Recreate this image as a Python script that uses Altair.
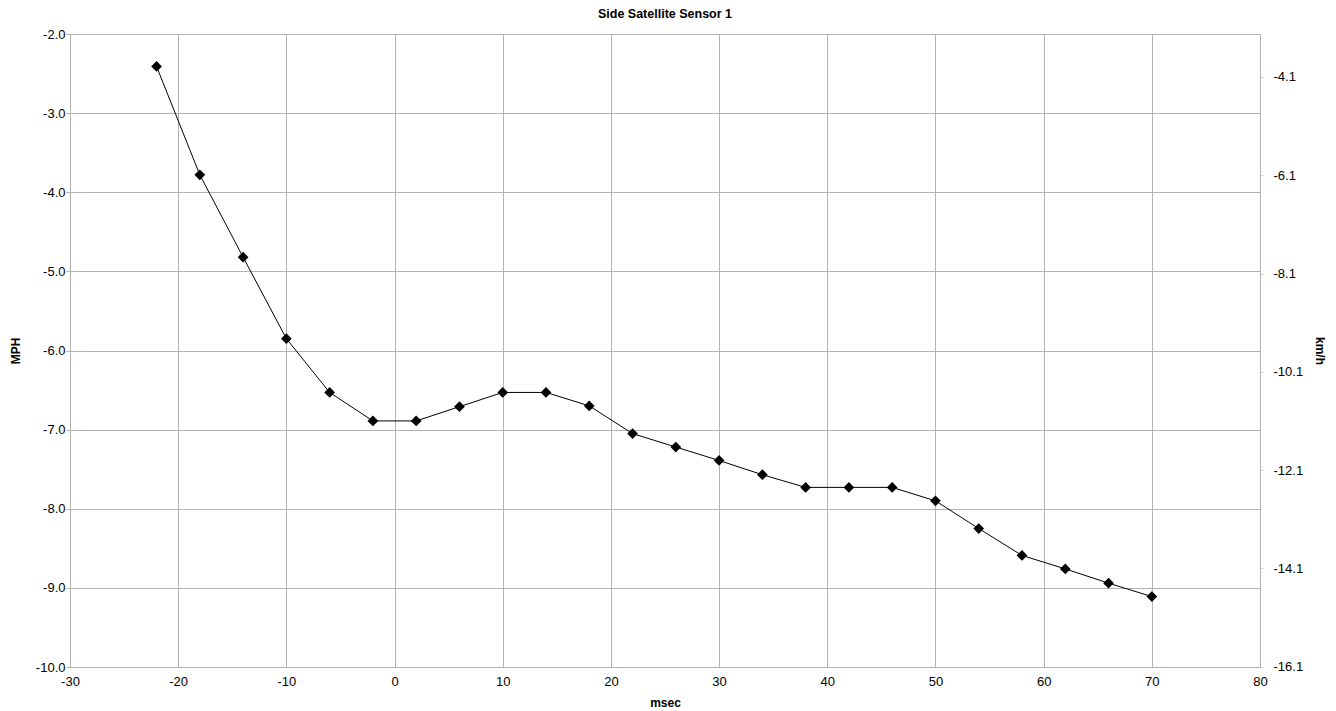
import altair as alt
import pandas as pd

msec = [-22, -18, -14, -10, -6, -2, 2, 6, 10, 14, 18, 22, 26, 30, 34, 38, 42, 46, 50, 54, 58, 62, 66, 70]
mph = [-2.41, -3.78, -4.82, -5.85, -6.53, -6.89, -6.89, -6.71, -6.53, -6.53, -6.70, -7.05,
       -7.22, -7.39, -7.57, -7.73, -7.73, -7.73, -7.90, -8.25, -8.59, -8.76, -8.94, -9.11]
x_ticks = [-30, -20, -10, 0, 10, 20, 30, 40, 50, 60, 70, 80]
mph_ticks = [-2.0, -3.0, -4.0, -5.0, -6.0, -7.0, -8.0, -9.0, -10.0]
KMH = 1.609344
kmh_ticks = [-16.09, -14.09, -12.09, -10.09, -8.09, -6.09, -4.09]

df = pd.DataFrame({"msec": msec, "mph": mph})

FONT = "Liberation Sans"
GRID = "#b3b3b3"
HYPHEN = "replace(datum.label, '\u2212', '-')"
LS = 13

x = alt.X("msec:Q", scale=alt.Scale(domain=[-30, 80], nice=False, zero=False),
          axis=alt.Axis(values=x_ticks, title="msec", tickSize=0, labelPadding=8,
                        titlePadding=9, grid=True, gridColor=GRID, domainColor=GRID,
                        labelFontSize=LS, titleFontSize=12, labelFont=FONT, titleFont=FONT,
                        labelColor="#000", titleColor="#000", labelFlush=False,
                        labelExpr=HYPHEN))

y_left = alt.Y("mph:Q", scale=alt.Scale(domain=[-10, -2], nice=False, zero=False),
               axis=alt.Axis(values=mph_ticks, format=".1f", title="MPH", tickSize=4,
                             tickColor=GRID, labelPadding=1, titlePadding=13, grid=True,
                             gridColor=GRID, domainColor=GRID, labelFontSize=LS,
                             titleFontSize=12, labelFont=FONT, titleFont=FONT,
                             labelColor="#000", titleColor="#000", labelFlush=False,
                             labelExpr=HYPHEN))

main = alt.Chart(df).mark_line(
    color="black", strokeWidth=1,
    point=alt.OverlayMarkDef(shape="diamond", filled=True, color="black", size=115, opacity=1),
).encode(x=x, y=y_left)

right = alt.Chart(df).transform_calculate(kmh=f"datum.mph * {KMH}").mark_point(opacity=0).encode(
    x=x,
    y=alt.Y("kmh:Q", scale=alt.Scale(domain=[-10 * KMH, -2 * KMH], nice=False, zero=False),
            axis=alt.Axis(orient="right", values=kmh_ticks, format=".1f", title="km/h",
                          tickSize=3, tickColor="#cccccc", labelPadding=10, titlePadding=10,
                          grid=False, domainColor=GRID, labelFontSize=LS, titleFontSize=12,
                          labelFont=FONT, titleFont=FONT, labelColor="#000",
                          titleColor="#000", labelFlush=False, labelExpr=HYPHEN))
)

chart = alt.layer(main, right).resolve_scale(y="independent").properties(
    width=1190, height=633,
    title=alt.TitleParams("Side Satellite Sensor 1", font=FONT, fontSize=12.5,
                          fontWeight="bold", color="#000", anchor="middle", offset=8),
    autosize=alt.AutoSizeParams(type="none"),
    padding={"left": 70, "top": 34, "right": 76, "bottom": 44},
).configure_view(stroke=GRID).configure_axis(titleFontWeight="bold")

chart.save("out.html", embed_options={"renderer": "svg", "actions": False})
